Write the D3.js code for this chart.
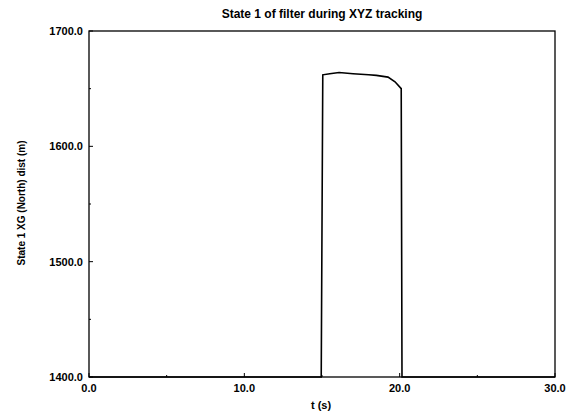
<!DOCTYPE html>
<html>
<head>
<meta charset="utf-8">
<script src="https://cdn.jsdelivr.net/npm/d3@7"></script>
<style>
  body { margin: 0; background: #fff; }
  text { font-family: "Liberation Sans", Arial, sans-serif; font-weight: bold; fill: #000; }
</style>
</head>
<body>
<div id="chart"></div>
<script>
var times  = [0, 14.95, 15.05, 15.5, 16.1, 17.0, 18.0, 18.5, 19.25, 19.7, 20.1, 20.15, 30];
var values = [1400, 1400, 1662, 1663, 1664, 1663, 1662, 1661.5, 1660, 1656, 1650, 1400, 1400];
var xTicks = [0, 10, 20, 30];
var yTicks = [1400, 1500, 1600, 1700];

var width = 571, height = 415,
    plotLeft = 89, plotRight = 555, plotTop = 31, plotBottom = 377;

var x = d3.scaleLinear().domain([0, 30]).range([plotLeft, plotRight]);
var y = d3.scaleLinear().domain([1400, 1700]).range([plotBottom, plotTop]);

var svg = d3.select('#chart').append('svg')
    .attr('width', width)
    .attr('height', height);

// frame
svg.append('rect')
    .attr('x', plotLeft).attr('y', plotTop)
    .attr('width', plotRight - plotLeft).attr('height', plotBottom - plotTop)
    .style('fill', 'none').style('stroke', '#000').style('stroke-width', 1.3);

// inner ticks, major and minor
svg.append('g').selectAll('line').data(d3.range(0, 31, 5))
    .enter().append('line')
        .attr('x1', function(d) { return x(d); })
        .attr('x2', function(d) { return x(d); })
        .attr('y1', plotBottom)
        .attr('y2', function(d) { return plotBottom - (d % 10 === 0 ? 4 : 2); })
        .style('stroke', '#000');
svg.append('g').selectAll('line').data(d3.range(1400, 1701, 50))
    .enter().append('line')
        .attr('x1', plotLeft)
        .attr('x2', function(d) { return plotLeft + (d % 100 === 0 ? 4 : 2); })
        .attr('y1', function(d) { return y(d); })
        .attr('y2', function(d) { return y(d); })
        .style('stroke', '#000');

// tick labels
svg.append('g').selectAll('text').data(xTicks)
    .enter().append('text')
        .attr('x', function(d) { return x(d); })
        .attr('y', plotBottom + 15)
        .attr('text-anchor', 'middle')
        .style('font-size', '11px')
        .text(function(d) { return d.toFixed(1); });
svg.append('g').selectAll('text').data(yTicks)
    .enter().append('text')
        .attr('x', plotLeft - 6)
        .attr('y', function(d) { return y(d) + 4; })
        .attr('text-anchor', 'end')
        .style('font-size', '11px')
        .text(function(d) { return d.toFixed(1); });

// data line
var pts = times.map(function(t, i) { return [t, values[i]]; });
svg.append('path')
    .datum(pts)
    .attr('d', d3.line()
        .x(function(d) { return x(d[0]); })
        .y(function(d) { return y(d[1]); }))
    .style('fill', 'none')
    .style('stroke', '#000')
    .style('stroke-width', 1.6);

// titles
svg.append('text')
    .attr('x', 322).attr('y', 18)
    .attr('text-anchor', 'middle')
    .style('font-size', '12px')
    .text('State 1 of filter during XYZ tracking');
svg.append('text')
    .attr('x', 321).attr('y', 409)
    .attr('text-anchor', 'middle')
    .style('font-size', '11px')
    .text('t (s)');
svg.append('text')
    .attr('transform', 'translate(25,203) rotate(-90)')
    .attr('text-anchor', 'middle')
    .style('font-size', '10px')
    .text('State 1 XG (North) dist (m)');
</script>
</body>
</html>
